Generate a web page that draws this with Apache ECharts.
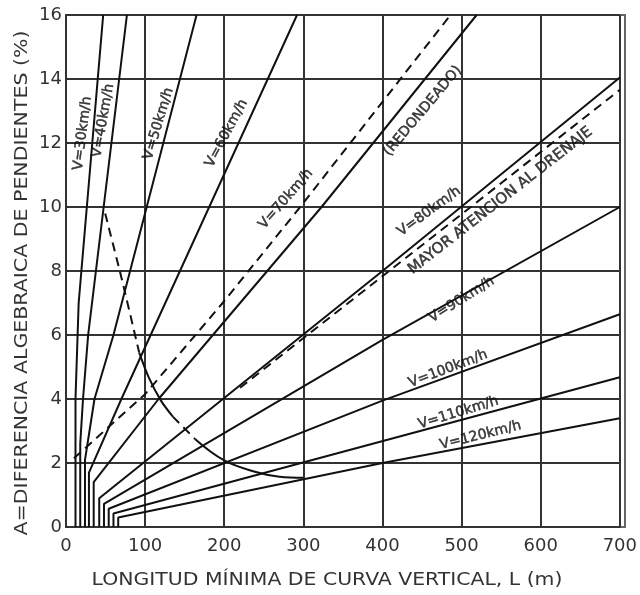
<!DOCTYPE html>
<html>
<head>
<meta charset="utf-8">
<script src="https://cdn.jsdelivr.net/npm/echarts@6/dist/echarts.min.js"></script>
<style>
html, body { margin: 0; padding: 0; background: #fff; }
#chart { width: 640px; height: 595px; }
</style>
</head>
<body>
<div id="chart"></div>
<script>
// ticks
var xTicks = [0, 100, 200, 300, 400, 500, 600, 700];
var yTicks = [0, 2, 4, 6, 8, 10, 12, 14, 16];

// speed lines [L (m), A (%)]
var speedNames = ['V=30km/h', 'V=40km/h', 'V=50km/h', 'V=60km/h', 'V=70km/h',
  'V=80km/h', 'V=90km/h', 'V=100km/h', 'V=110km/h', 'V=120km/h'];
var v30 = [[12, 0], [12, 4], [16, 7], [47, 16]];
var v40 = [[18, 0], [18, 2.6], [21.5, 4], [28, 6], [77, 16]];
var v50 = [[24, 0], [24, 2.1], [36, 4], [60, 6], [165, 16]];
var v60 = [[29, 0], [29, 1.7], [70, 4], [292, 16]];
var v70 = [[35, 0], [35, 1.4], [117, 4], [323, 10], [519, 16]];
var v80 = [[42, 0], [42, 0.9], [400, 8], [700, 14.05]];
var v90 = [[48, 0], [48, 0.72], [400, 5.85], [700, 10]];
var v100 = [[54, 0], [54, 0.57], [400, 3.95], [700, 6.65]];
var v110 = [[60, 0], [60, 0.42], [700, 4.68]];
var v120 = [[66, 0], [66, 0.3], [400, 2.0], [700, 3.4]];
var speedLines = [v30, v40, v50, v60, v70, v80, v90, v100, v110, v120];

// dashed limits
var redondeado = [[10, 2.15], [100, 4.15], [198, 7], [296, 10], [486, 16]];
var drenaje = [[220, 4.35], [460, 9.0], [700, 13.66]];
// boundary curve: alternating dashed / solid pieces
var curveA = [[49.5, 9.8], [70, 7.8], [92.5, 5.45]];
var curveB = [[92.5, 5.45], [105, 4.65], [120, 3.95], [135, 3.45]];
var curveC = [[135, 3.45], [163, 2.75]];
var curveD = [[163, 2.75], [200, 2.08], [240, 1.72], [270, 1.57], [300, 1.54]];

// labels along the lines
var labelTexts = speedNames.concat(['(REDONDEADO)', 'MAYOR ATENCION AL DRENAJE']);
var labelAt = [[21, 12.3], [47, 12.7], [117, 12.6], [203, 12.3], [278, 10.25],
  [459, 9.86], [500, 7.1], [483, 4.94], [496, 3.57], [524, 2.86],
  [451, 13.0], [549, 10.2]];
var labelAngles = [83, 80, 73, 62, 49, 36, 32, 21, 17, 14, 50, 38];

var chart = echarts.init(document.getElementById('chart'), null, { renderer: 'canvas' });

function lineSeries(data, dashed, smooth) {
  return {
    type: 'line',
    data: data,
    showSymbol: false,
    silent: true,
    animation: false,
    smooth: smooth || false,
    lineStyle: { color: '#111', width: 2, type: dashed ? [9, 6] : 'solid' }
  };
}

var series = speedLines.map(function (d) { return lineSeries(d, false); });
series.push(lineSeries(redondeado, true));
series.push(lineSeries(drenaje, true));
series.push(lineSeries(curveA, true, 0.2));
series.push(lineSeries(curveB, false, 0.3));
series.push(lineSeries(curveC, true));
series.push(lineSeries(curveD, false, 0.4));

series.push({
  type: 'scatter',
  silent: true,
  animation: false,
  symbolSize: 2,
  itemStyle: { color: 'rgba(0,0,0,0)' },
  data: labelTexts.map(function (t, i) {
    return {
      value: labelAt[i],
      label: {
        rotate: labelAngles[i],
        formatter: t,
        fontSize: i === 11 ? 15 : 14
      }
    };
  }),
  label: {
    show: true,
    position: 'inside',
    color: '#111',
    textBorderColor: '#111',
    textBorderWidth: 0.5,
    fontFamily: 'DejaVu Sans',
    align: 'center',
    verticalAlign: 'middle'
  }
});

var option = {
  backgroundColor: '#fff',
  grid: { left: 66, right: 15, top: 15, bottom: 68, show: false },
  xAxis: {
    type: 'value',
    min: xTicks[0],
    max: xTicks[xTicks.length - 1],
    interval: 100,
    axisLine: { show: true, lineStyle: { color: '#333', width: 2 } },
    axisTick: { show: false },
    axisLabel: {
      margin: 10,
      color: '#333',
      fontSize: 18,
      fontFamily: 'DejaVu Sans'
    },
    splitLine: { show: true, lineStyle: { color: '#333', width: 2 } }
  },
  yAxis: {
    type: 'value',
    min: yTicks[0],
    max: yTicks[yTicks.length - 1],
    interval: 2,
    axisLine: { show: true, lineStyle: { color: '#333', width: 2 } },
    axisTick: { show: false },
    axisLabel: {
      margin: 4,
      color: '#333',
      fontSize: 18,
      fontFamily: 'DejaVu Sans'
    },
    splitLine: { show: true, lineStyle: { color: '#333', width: 2 } }
  },
  graphic: [
    {
      type: 'text',
      x: 22, y: 283,
      rotation: Math.PI / 2,
      scaleX: 1.14,
      style: {
        text: 'A=DIFERENCIA ALGEBRAICA DE PENDIENTES (%)',
        fill: '#333',
        font: '18px "DejaVu Sans"',
        align: 'center',
        verticalAlign: 'middle'
      }
    },
    {
      type: 'text',
      x: 327, y: 581,
      scaleX: 1.2,
      style: {
        text: 'LONGITUD MÍNIMA DE CURVA VERTICAL, L (m)',
        fill: '#333',
        font: '17px "DejaVu Sans"',
        align: 'center',
        verticalAlign: 'middle'
      }
    },
    {
      type: 'rect',
      silent: true,
      shape: { x: 66, y: 15, width: 559, height: 512 },
      style: { fill: 'none', stroke: '#666', lineWidth: 2 }
    }
  ],
  series: series
};

chart.setOption(option);
</script>
</body>
</html>
